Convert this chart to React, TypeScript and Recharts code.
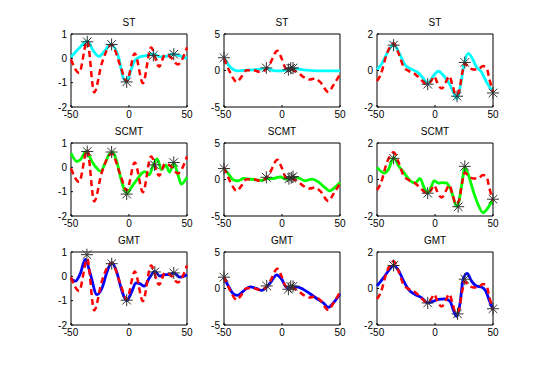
import React from 'react';
import { ComposedChart, Line, Scatter, XAxis, YAxis, ReferenceArea } from 'recharts';

type P = [number, number];

const methods = ['ST', 'SCMT', 'GMT'];
const methodColors = ['#00ffff', '#00ff00', '#0000ff'];
const xTicks = [-50, 0, 50];
const yTicksCol1 = [-2, -1, 0, 1];
const yTicksCol2 = [-5, 0, 5];
const yTicksCol3 = [-2, 0, 2];

// True signals (red dashed), one per column
const truthCol1: P[] = [[-50, -0.05], [-43, -0.6], [-36, 0.72], [-30, -1.4], [-23.4, -0.2], [-15, 0.56], [-7.5, -0.3], [-2, -0.95], [5, 0.2], [12, -1.02], [19, 0.45], [26, -0.35], [31, 0.15], [36, 0.05], [42, -0.25], [50, 0.45]];
const truthCol2: P[] = [[-50, 1.65], [-45, -0.18], [-39, -1.56], [-35, -0.87], [-30.5, 0.05], [-25, 0.05], [-19, -0.18], [-14.7, 0.05], [-10.3, 0.96], [-4, 2.7], [-0.3, 1.65], [3.4, 0.28], [8.3, 0.14], [12.6, -0.18], [18.4, -0.87], [24, -1.24], [28.4, -1.1], [32.8, -1.56], [40, -2.94], [44.3, -2.0], [50, -0.5]];
const truthCol3: P[] = [[-50, -0.57], [-47, -0.26], [-41.4, 0.94], [-35.7, 1.49], [-31.4, 0.94], [-27, 0.2], [-22.9, -0.02], [-18.6, -0.13], [-12.9, -0.44], [-7.1, -0.75], [-2.9, -0.53], [-0.9, -0.31], [2.9, -0.81], [5.7, -0.99], [9.4, -0.62], [12.3, -0.31], [15.1, -0.81], [18, -1.36], [20.6, -1.17], [23.4, -0.17], [25.7, 0.39], [28.6, 0.2], [32.9, 0.06], [37.1, 0.06], [41.4, 0.24], [44.3, 0.17], [47.1, -0.53], [50, -1.17]];

// ST estimates (cyan)
const stCol1: P[] = [[-50, 0.05], [-42, 0.47], [-36, 0.72], [-31, 0.33], [-26, 0.08], [-21, 0.3], [-16, 0.57], [-9, 0.05], [-5, -0.79], [-2, -0.97], [1, -0.58], [5, -0.09], [9, 0.05], [16, 0.12], [21, 0.18], [27, 0.06], [32, 0.08], [38, 0.17], [44, 0.1], [50, 0.0]];
const stCol2: P[] = [[-50, 1.65], [-46, 0.73], [-42, 0.14], [-37.6, -0.05], [-30.5, 0.05], [-21.8, 0.14], [-13.2, 0.28], [-6, -0.05], [-0.3, -0.05], [6.3, 0.23], [12.6, 0.23], [21, 0.05], [30, -0.05], [50, -0.05]];
const stCol3: P[] = [[-50, 0.06], [-45.7, 0.39], [-41.4, 0.94], [-35.7, 1.43], [-31.4, 1.03], [-25.7, 0.29], [-20, 0.06], [-14.3, -0.13], [-10, -0.44], [-6.3, -0.72], [-2.9, -0.44], [2.9, -0.04], [7.1, -0.26], [11.4, -0.62], [15.7, -1.17], [18.6, -1.54], [22, -0.81], [24.9, 0.29], [28.6, 0.94], [31.4, 0.75], [35.7, 0.2], [40, -0.07], [44.3, -0.62], [50, -1.17]];

// SCMT estimates (green)
const scmtCol1: P[] = [[-50, 0.58], [-44.9, 0.24], [-42, 0.31], [-36.9, 0.65], [-32, 0.24], [-27.7, -0.04], [-24.3, -0.17], [-20.6, 0.17], [-16.3, 0.58], [-14, 0.62], [-10.6, 0.24], [-6.3, -0.59], [-2, -1.07], [2.3, -0.8], [6.6, -0.52], [10.9, -0.25], [13.7, -0.18], [17.4, -0.31], [20.9, 0.1], [24.3, 0.35], [28, -0.1], [31.7, 0.1], [35, -0.2], [38.6, 0.17], [42.3, -0.31], [45, -0.69], [50, -0.41]];
const scmtCol2: P[] = [[-50, 1.5], [-46, 0.73], [-42, -0.05], [-37.6, -0.18], [-33.3, 0.14], [-27.6, 0.05], [-21.8, -0.05], [-17.5, -0.14], [-13.2, 0.14], [-7.5, 0.14], [-1.7, 0.37], [3.4, 0.05], [6.9, 0.14], [11.2, 0.28], [15.5, 0.14], [19.8, -0.18], [25.6, 0.05], [31.3, -0.32], [37, -1.1], [40.8, -1.56], [44.3, -1.24], [50, -0.41]];
const scmtCol3: P[] = [[-50, 0.66], [-43.7, 0.35], [-40, 0.57], [-35.7, 1.21], [-31.4, 0.75], [-27, 0.39], [-21.4, -0.07], [-17.1, -0.2], [-12.9, 0.06], [-9.4, -0.44], [-6.3, -0.75], [-2.9, -0.35], [-0.9, -0.07], [2.9, -0.2], [6.6, -0.17], [10, -0.2], [13.4, -0.53], [19.1, -1.49], [22.9, -0.35], [25.7, 0.66], [28.6, 0.29], [32.9, -0.62], [37.1, -1.36], [41.4, -1.82], [45.7, -1.54], [50, -1.08]];

// GMT estimates (blue)
const gmtCol1: P[] = [[-50, -0.1], [-46.3, -0.2], [-42, 0.11], [-37.7, 0.7], [-33.4, 0.11], [-27.7, -0.75], [-23.4, -0.5], [-19, 0.18], [-14.9, 0.56], [-10.6, 0.18], [-6.3, -0.57], [-2, -1.0], [2.3, -0.64], [6, -0.27], [9.4, -0.3], [13.1, -0.4], [18, -0.03], [22.3, 0.2], [26.6, 0.01], [30.9, 0.07], [35, 0.07], [38.6, 0.14], [43.7, -0.03], [50, 0.07]];
const gmtCol2: P[] = [[-50, 1.51], [-46.3, 0.35], [-42, -0.72], [-38.5, -0.95], [-33.3, -0.35], [-27.6, 0.21], [-21.8, -0.02], [-17.5, -0.26], [-13.2, 0.21], [-8.9, 1.05], [-4.6, 1.88], [-0.3, 1.28], [4, 0.12], [8.3, 0.21], [12.6, 0.21], [18.4, -0.12], [24.1, -0.72], [29.9, -1.37], [35.6, -1.98], [40, -2.58], [44.3, -1.98], [50, -0.72]];
const gmtCol3: P[] = [[-50, 0.14], [-44.3, 0.6], [-40, 0.98], [-35.7, 1.26], [-31.4, 0.98], [-27.1, 0.42], [-22.9, -0.05], [-17.1, -0.33], [-11.4, -0.51], [-6.3, -0.79], [-1.4, -0.7], [2.9, -0.6], [8.6, -0.57], [12.9, -0.7], [16.3, -1.26], [18.6, -1.53], [21.4, -0.88], [24.3, 0.51], [27.7, 0.83], [31.4, 0.42], [35.7, 0.14], [40, 0.08], [43.7, -0.14], [47.1, -0.7], [50, -1.16]];

// Sample points (asterisks)
const starsStCol1: P[] = [[-36, 0.68], [-15, 0.57], [-2, -0.97], [21, 0.12], [38.6, 0.17]];
const starsStCol2: P[] = [[-50, 1.75], [-13.5, 0.35], [5.5, 0.1], [7.5, 0.3], [9.5, 0.35]];
const starsStCol3: P[] = [[-35.7, 1.39], [-6.3, -0.75], [19, -1.41], [25.7, 0.44], [50, -1.23]];
const starsScmtCol1: P[] = [[-36, 0.65], [-15, 0.63], [-2, -1.1], [22, 0.1], [38.6, 0.2]];
const starsScmtCol2: P[] = [[-50, 1.5], [-13.5, 0.3], [6, 0.1], [8, 0.25], [9.5, 0.4]];
const starsScmtCol3: P[] = [[-35.7, 1.16], [-6.3, -0.75], [20, -1.49], [25.7, 0.72], [50, -1.08]];
const starsGmtCol1: P[] = [[-36.3, 0.89], [-14.9, 0.52], [-2, -0.98], [22.3, 0.18], [38.6, 0.14]];
const starsGmtCol2: P[] = [[-50, 1.55], [-13.2, 0.35], [5.5, -0.1], [7.5, 0.3], [9.5, 0.3]];
const starsGmtCol3: P[] = [[-35.7, 1.26], [-6.3, -0.79], [19.4, -1.39], [25.7, 0.51], [50, -1.11]];

const truths = [truthCol1, truthCol2, truthCol3];
const yTicksByCol = [yTicksCol1, yTicksCol2, yTicksCol3];
const estimates = [
  [stCol1, stCol2, stCol3],
  [scmtCol1, scmtCol2, scmtCol3],
  [gmtCol1, gmtCol2, gmtCol3],
];
const stars = [
  [starsStCol1, starsStCol2, starsStCol3],
  [starsScmtCol1, starsScmtCol2, starsScmtCol3],
  [starsGmtCol1, starsGmtCol2, starsGmtCol3],
];

const colLefts = [71, 224, 377];
const rowTops = [34, 143, 252];
const PW = 116;
const PH = 73;
const ML = 40;
const MT = 25;
const MR = 15;
const XH = 20;
const FONT = '"Liberation Sans", Arial, Helvetica, sans-serif';

const toObj = (arr: P[]) => arr.map(([x, y]) => ({ x, y }));

const Star = (props: any) => {
  const { cx, cy } = props;
  if (cx == null || cy == null) return null;
  const r = 6;
  const d = 4.3;
  return (
    <g stroke="#333" strokeWidth={1}>
      <line x1={cx - r} y1={cy} x2={cx + r} y2={cy} />
      <line x1={cx} y1={cy - r} x2={cx} y2={cy + r} />
      <line x1={cx - d} y1={cy - d} x2={cx + d} y2={cy + d} />
      <line x1={cx - d} y1={cy + d} x2={cx + d} y2={cy - d} />
    </g>
  );
};

const XTick = (props: any) => {
  const { x, y, payload } = props;
  const axisY = y - 4;
  return (
    <g>
      <line x1={x} x2={x} y1={axisY} y2={axisY - 2} stroke="#000" />
      <text x={x} y={y} dy="0.71em" textAnchor="middle" fontSize={10} fontFamily={FONT} fill="#000">
        {payload.value}
      </text>
    </g>
  );
};

const YTick = (props: any) => {
  const { x, y, payload } = props;
  const axisX = x + 4;
  return (
    <g>
      <line x1={axisX} x2={axisX + 2} y1={y} y2={y} stroke="#000" />
      <text x={x} y={y} dy="0.355em" textAnchor="end" fontSize={10} fontFamily={FONT} fill="#000">
        {payload.value}
      </text>
    </g>
  );
};

function Panel({ row, col }: { row: number; col: number }) {
  const yTicks = yTicksByCol[col];
  const yMin = yTicks[0];
  const yMax = yTicks[yTicks.length - 1];
  return (
    <div style={{ position: 'absolute', left: colLefts[col] - ML, top: rowTops[row] - MT }}>
      <ComposedChart
        width={ML + PW + MR}
        height={MT + PH + XH}
        margin={{ top: MT, right: MR, left: 0, bottom: 0 }}
      >
        <XAxis
          type="number"
          dataKey="x"
          domain={[-50, 50]}
          ticks={xTicks}
          axisLine={false}
          tickLine={false}
          tickSize={4}
          tickMargin={0}
          height={XH}
          tick={<XTick />}
          interval={0}
        />
        <YAxis
          type="number"
          dataKey="y"
          domain={[yMin, yMax]}
          ticks={yTicks}
          axisLine={false}
          tickLine={false}
          tickSize={4}
          tickMargin={0}
          width={ML}
          tick={<YTick />}
          interval={0}
        />
        <Line
          data={toObj(estimates[row][col])}
          dataKey="y"
          type="monotone"
          stroke={methodColors[row]}
          strokeWidth={2.8}
          dot={false}
          activeDot={false}
          isAnimationActive={false}
        />
        <Line
          data={toObj(truths[col])}
          dataKey="y"
          type="monotone"
          stroke="#ff0000"
          strokeWidth={2.5}
          strokeDasharray="6 4"
          dot={false}
          activeDot={false}
          isAnimationActive={false}
        />
        <Scatter data={toObj(stars[row][col])} dataKey="y" shape={Star} isAnimationActive={false} />
        <ReferenceArea x1={-50} x2={50} y1={yMin} y2={yMax} fill="none" fillOpacity={0} stroke="#000" strokeWidth={1} />
      </ComposedChart>
      <div
        style={{
          position: 'absolute',
          left: ML,
          width: PW,
          top: MT - 17,
          height: 12,
          lineHeight: '12px',
          textAlign: 'center',
          fontSize: 10,
          fontFamily: FONT,
          color: '#000',
        }}
      >
        {methods[row]}
      </div>
    </div>
  );
}

export default function App() {
  const cells: React.ReactNode[] = [];
  for (let r = 0; r < 3; r++) {
    for (let c = 0; c < 3; c++) {
      cells.push(<Panel key={`${r}-${c}`} row={r} col={c} />);
    }
  }
  return (
    <div style={{ position: 'absolute', left: 0, top: 0, width: 545, height: 366, background: '#fff' }}>
      {cells}
    </div>
  );
}
